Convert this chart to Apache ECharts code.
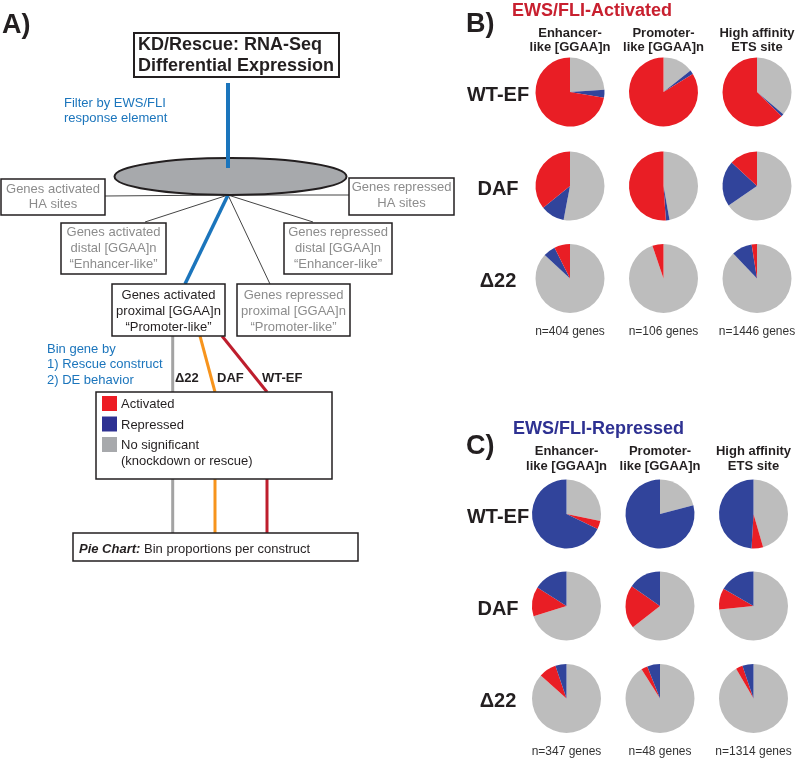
<!DOCTYPE html>
<html><head><meta charset="utf-8">
<script src="https://cdn.jsdelivr.net/npm/echarts@6/dist/echarts.min.js"></script>
<style>html,body{margin:0;padding:0;background:#fff}#c{width:800px;height:761px}</style>
</head><body><div id="c"></div>
<script>
// ---------- DATA ----------
const constructs = ['WT-EF', 'DAF', 'Δ22'];
const elementHeaders = [['Enhancer-', 'like [GGAA]n'], ['Promoter-', 'like [GGAA]n'], ['High affinity', 'ETS site']];
const binNames = ['Activated', 'Repressed', 'No significant'];
const legendLines = ['Activated', 'Repressed', 'No significant', '(knockdown or rescue)'];

// Panel B: EWS/FLI-Activated genes (% of genes), rows = constructs, cols = element types
const activatedSet_activated = [[72.3, 83.8, 62.6], [35.8, 51.1, 13.1], [7.4, 5.2, 2.5]];
const activatedSet_repressed = [[3.7, 1.9, 1.2], [11.2, 1.7, 21.5], [5.7, 0, 9.6]];
const activatedSet_nosig     = [[24.0, 14.3, 36.2], [53.0, 47.2, 65.4], [86.9, 94.8, 87.9]];
const activatedSet_n = ['n=404 genes', 'n=106 genes', 'n=1446 genes'];

// Panel C: EWS/FLI-Repressed genes
const repressedSet_activated = [[3.9, 0, 5.4], [13.8, 20.3, 9.9], [8.2, 3.0, 3.2]];
const repressedSet_repressed = [[67.8, 79.1, 49.1], [16.0, 15.3, 16.7], [5.2, 6.0, 5.2]];
const repressedSet_nosig     = [[28.3, 20.9, 45.5], [70.2, 64.4, 73.4], [86.6, 91.0, 91.6]];
const repressedSet_n = ['n=347 genes', 'n=48 genes', 'n=1314 genes'];

// ---------- STYLE / LAYOUT ----------
const FONT = "'Liberation Sans', Arial, Helvetica, sans-serif";
const binColors = {Activated: '#e91e25', Repressed: '#31449b', 'No significant': '#bdbdbd'};
const legendColors = ['#ed1c24', '#2e3192', '#a7a9ac'];
const INK = '#231f20', GRAYTXT = '#8c8c8c', BLUETXT = '#1b75bc';

const panels = [
  {label: 'B)', labelY: 25, title: 'EWS/FLI-Activated', titleColor: '#c8202f', titleX: 512, titleY: 11,
   colX: [570, 663.5, 757], rowY: [92, 186, 278.5], headY: [33, 47], nY: 332,
   act: activatedSet_activated, rep: activatedSet_repressed, ns: activatedSet_nosig, n: activatedSet_n,
   order: ['No significant', 'Repressed', 'Activated']},
  {label: 'C)', labelY: 447, title: 'EWS/FLI-Repressed', titleColor: '#2e3192', titleX: 513, titleY: 429,
   colX: [566.5, 660, 753.5], rowY: [514, 606, 698.5], headY: [451, 466], nY: 752,
   act: repressedSet_activated, rep: repressedSet_repressed, ns: repressedSet_nosig, n: repressedSet_n,
   order: ['No significant', 'Activated', 'Repressed']}
];
const rowLabelX = 498;
const PIE_R = 34.5;

// ---------- GRAPHIC HELPERS ----------
const els = [];
function T(x, y, text, o) {
  o = o || {};
  els.push({type: 'text', x: x, y: y, silent: true, z: 10,
    style: {text: text, fill: o.fill || INK, font: (o.style || '') + ' ' + (o.weight || 'normal') + ' ' + (o.size || 13) + 'px ' + FONT,
      textAlign: o.align || 'left', textVerticalAlign: 'middle'}});
}
function R(x, y, w, h, lw, fill) {
  els.push({type: 'rect', silent: true, z: 5, shape: {x: x, y: y, width: w, height: h},
    style: {fill: fill || '#fff', stroke: fill ? null : INK, lineWidth: lw || 1.5}});
}
function L(x1, y1, x2, y2, color, w) {
  els.push({type: 'line', silent: true, z: 4, shape: {x1: x1, y1: y1, x2: x2, y2: y2},
    style: {stroke: color, lineWidth: w}});
}
function lines(cx, ys, arr, o) { arr.forEach((s, i) => T(cx, ys[i], s, o)); }

// ---------- PANEL A (flow diagram) ----------
T(2, 26, 'A)', {weight: 'bold', size: 27});
R(134, 33, 205, 44, 2);
lines(138, [45, 66], ['KD/Rescue: RNA-Seq', 'Differential Expression'], {weight: 'bold', size: 18});
lines(64, [103, 118], ['Filter by EWS/FLI', 'response element'], {fill: BLUETXT});

// connectors from ellipse
L(228, 195, 105, 196, '#444', 1);
L(228, 195, 350, 195, '#444', 1);
L(228, 195, 145, 222, '#444', 1);
L(228, 195, 313, 222, '#444', 1);
L(228, 195, 270, 284, '#444', 1);
L(228, 195, 185, 284, BLUETXT, 3.5);
els.push({type: 'ellipse', silent: true, z: 6, shape: {cx: 230.5, cy: 176.5, rx: 116, ry: 18.5},
  style: {fill: '#a7a9ac', stroke: INK, lineWidth: 2}});
els.push({type: 'line', silent: true, z: 7, shape: {x1: 228, y1: 83, x2: 228, y2: 168},
  style: {stroke: BLUETXT, lineWidth: 4}});

R(1, 179, 104, 36);
lines(53, [189, 204], ['Genes activated', 'HA sites'], {fill: GRAYTXT, align: 'center'});
R(349, 178, 105, 37);
lines(401.5, [187, 203], ['Genes repressed', 'HA sites'], {fill: GRAYTXT, align: 'center'});
R(61, 223, 105, 51);
lines(113.5, [232, 248, 264], ['Genes activated', 'distal [GGAA]n', '“Enhancer-like”'], {fill: GRAYTXT, align: 'center'});
R(284, 223, 108, 51);
lines(338, [232, 248, 264], ['Genes repressed', 'distal [GGAA]n', '“Enhancer-like”'], {fill: GRAYTXT, align: 'center'});
R(112, 284, 113, 52);
lines(168.5, [295, 311, 327], ['Genes activated', 'proximal [GGAA]n', '“Promoter-like”'], {align: 'center'});
R(237, 284, 113, 52);
lines(293.5, [295, 311, 327], ['Genes repressed', 'proximal [GGAA]n', '“Promoter-like”'], {fill: GRAYTXT, align: 'center'});

lines(47, [349, 364, 380], ['Bin gene by', '1) Rescue construct', '2) DE behavior'], {fill: BLUETXT});

const constructLineColors = ['#a3a3a3', '#f7941d', '#be1e2d'];
L(172.7, 336, 172.7, 392, constructLineColors[0], 3);
L(200, 336, 215, 392, constructLineColors[1], 3);
L(222, 336, 267, 392, constructLineColors[2], 3);
T(175, 378, constructs[2], {weight: 'bold'});
T(217, 378, constructs[1], {weight: 'bold'});
T(262, 378, constructs[0], {weight: 'bold'});

R(96, 392, 236, 87);
[396, 416.5, 437].forEach((y, i) => R(102, y, 15, 15, 0, legendColors[i]));
lines(121, [404, 425, 445, 461], legendLines, {});

L(172.7, 479, 172.7, 533, constructLineColors[0], 3);
L(215, 479, 215, 533, constructLineColors[1], 3);
L(267, 479, 267, 533, constructLineColors[2], 3);
R(73, 533, 285, 28);
T(79, 549, 'Pie Chart:', {weight: 'bold', style: 'italic'});
T(144, 549, 'Bin proportions per construct', {});

// ---------- PANELS B & C (pies) ----------
const series = [];
panels.forEach(p => {
  T(466, p.labelY, p.label, {weight: 'bold', size: 27});
  T(p.titleX, p.titleY, p.title, {weight: 'bold', size: 18, fill: p.titleColor});
  elementHeaders.forEach((h, c) => lines(p.colX[c], p.headY, h, {weight: 'bold', align: 'center'}));
  constructs.forEach((name, r) => T(rowLabelX, p.rowY[r] + 3, name, {weight: 'bold', size: 20, align: 'center'}));
  p.n.forEach((s, c) => T(p.colX[c], p.nY, s, {size: 12, align: 'center', fill: '#333'}));
  constructs.forEach((cn, r) => {
    elementHeaders.forEach((h, c) => {
      const vals = {Activated: p.act[r][c], Repressed: p.rep[r][c], 'No significant': p.ns[r][c]};
      series.push({
        type: 'pie', center: [p.colX[c], p.rowY[r]], radius: PIE_R,
        startAngle: 90, clockwise: true, silent: true, animation: false,
        label: {show: false}, labelLine: {show: false},
        itemStyle: {borderWidth: 0},
        emphasis: {disabled: true},
        data: p.order.map(k => ({name: k, value: vals[k], itemStyle: {color: binColors[k]}}))
      });
    });
  });
});

const chart = echarts.init(document.getElementById('c'), null, {renderer: 'canvas'});
chart.setOption({
  backgroundColor: '#fff',
  animation: false,
  graphic: {elements: els},
  series: series
});
</script>
</body></html>
